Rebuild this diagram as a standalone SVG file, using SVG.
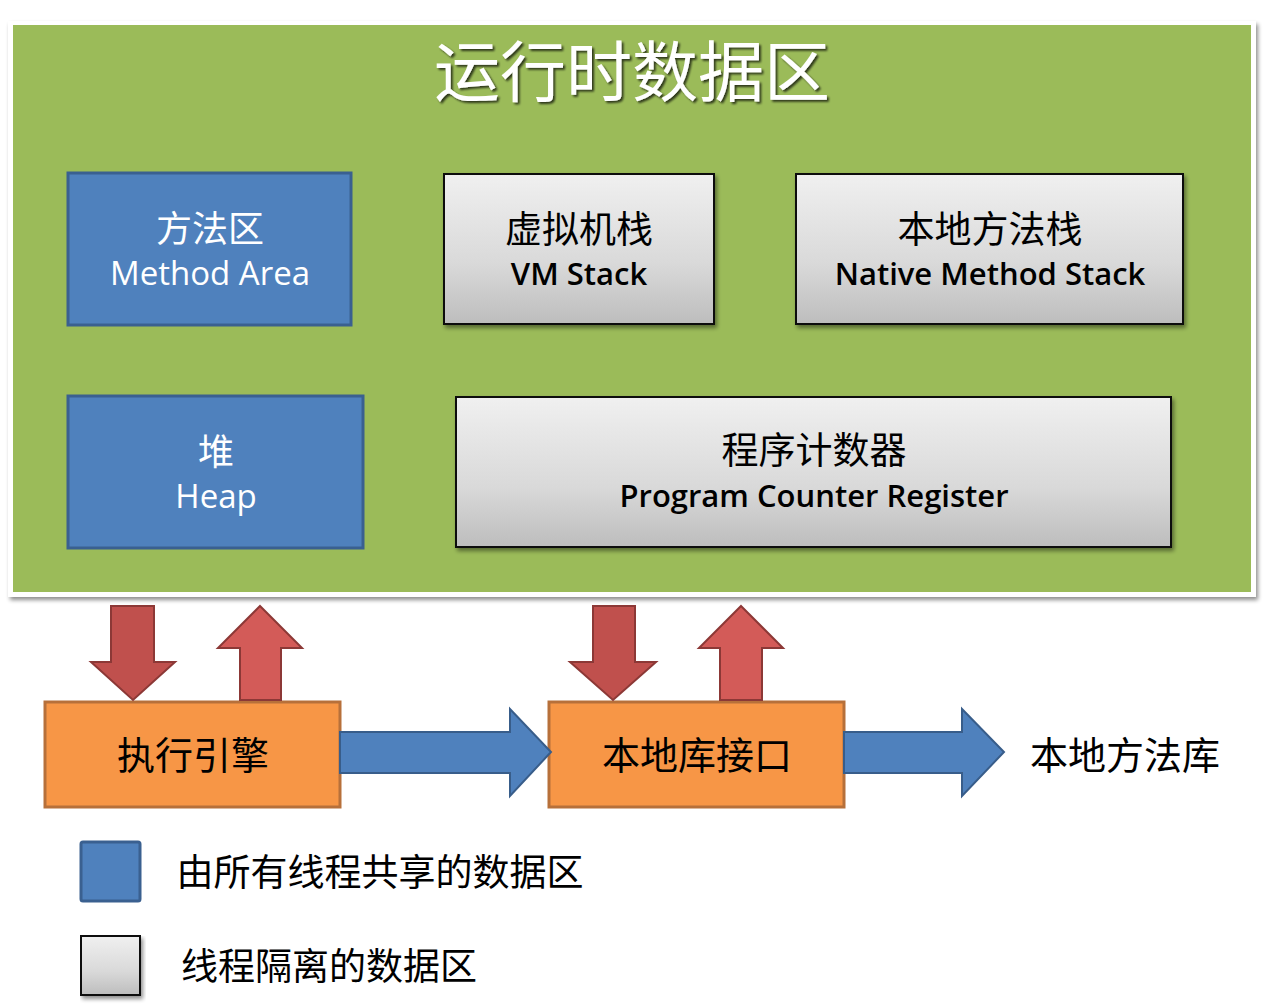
<svg xmlns="http://www.w3.org/2000/svg" width="1264" height="1006" viewBox="0 0 1264 1006">
<defs>
  <linearGradient id="grey" x1="0" y1="0" x2="0" y2="1">
    <stop offset="0" stop-color="#f0f0f0"/>
    <stop offset="0.6" stop-color="#d9d9d9"/>
    <stop offset="1" stop-color="#bdbdbd"/>
  </linearGradient>
  <filter id="shadow" x="-5%" y="-5%" width="115%" height="125%">
    <feGaussianBlur in="SourceAlpha" stdDeviation="2"/>
    <feOffset dx="2" dy="3" result="b"/>
    <feComponentTransfer><feFuncA type="linear" slope="0.45"/></feComponentTransfer>
    <feMerge><feMergeNode/><feMergeNode in="SourceGraphic"/></feMerge>
  </filter>
  <filter id="tshadow" x="-5%" y="-10%" width="115%" height="130%">
    <feGaussianBlur in="SourceAlpha" stdDeviation="1.2"/>
    <feOffset dx="1.5" dy="1.5"/>
    <feComponentTransfer><feFuncA type="linear" slope="0.7"/></feComponentTransfer>
    <feMerge><feMergeNode/><feMergeNode in="SourceGraphic"/></feMerge>
  </filter>
</defs>
<style>
  .cjk { font-family: "Noto Sans CJK SC", sans-serif; text-anchor: middle; }
  .lat { font-family: "Open Sans", "Liberation Sans", sans-serif; text-anchor: middle; }
  .shared { fill: #4f81bd; stroke: #3a6090; stroke-width: 3; }
  .private { fill: url(#grey); stroke: #111; stroke-width: 2; filter: url(#shadow); }
  .orange { fill: #f79646; stroke: #b7703a; stroke-width: 3; }
  .down { fill: #c0504d; stroke: #8c3836; stroke-width: 2; }
  .up { fill: #d35b58; stroke: #8c3836; stroke-width: 2; }
  .blue-arrow { fill: #4f81bd; stroke: #385d8a; stroke-width: 2; }
  .w { fill: #ffffff; }
  .k { fill: #000000; }
  .sb { font-weight: 600; }
</style>
<rect width="1264" height="1006" fill="#ffffff"/>

<g id="runtime-data-area">
  <rect x="8" y="21" width="1248" height="576" fill="#ffffff" filter="url(#shadow)"/>
  <rect x="13" y="25" width="1238" height="567" fill="#9bbb59"/>
  <text x="632" y="96" class="cjk w" font-size="66" filter="url(#tshadow)">运行时数据区</text>
</g>

<g id="method-area">
  <rect x="68" y="173" width="283" height="152" class="shared"/>
  <text x="210" y="242" class="cjk w" font-size="36">方法区</text>
  <text x="210" y="285" class="lat w" font-size="33">Method Area</text>
</g>

<g id="vm-stack">
  <rect x="444" y="174" width="270" height="150" class="private"/>
  <text x="579" y="243" class="cjk k" font-size="37">虚拟机栈</text>
  <text x="579" y="285" class="lat k sb" font-size="31">VM Stack</text>
</g>

<g id="native-method-stack">
  <rect x="796" y="174" width="387" height="150" class="private"/>
  <text x="990" y="243" class="cjk k" font-size="37">本地方法栈</text>
  <text x="990" y="285" class="lat k sb" font-size="31">Native Method Stack</text>
</g>

<g id="heap">
  <rect x="68" y="396" width="295" height="152" class="shared"/>
  <text x="216" y="465" class="cjk w" font-size="36">堆</text>
  <text x="216" y="508" class="lat w" font-size="33">Heap</text>
</g>

<g id="program-counter-register">
  <rect x="456" y="397" width="715" height="150" class="private"/>
  <text x="814" y="464" class="cjk k" font-size="37">程序计数器</text>
  <text x="814" y="507" class="lat k sb" font-size="31">Program Counter Register</text>
</g>

<g id="execution-engine">
  <rect x="45" y="702" width="295" height="105" class="orange"/>
  <text x="193" y="769" class="cjk k" font-size="38">执行引擎</text>
</g>

<g id="native-interface">
  <rect x="549" y="702" width="295" height="105" class="orange"/>
  <text x="697" y="769" class="cjk k" font-size="38">本地库接口</text>
</g>

<g id="native-libraries">
  <text x="1125" y="769" class="cjk k" font-size="38">本地方法库</text>
</g>

<g id="connectors">
  <polygon class="down" points="111,606 154,606 154,662 175,662 133,700 91,662 111,662"/>
  <polygon class="up" points="260,606 302,648 281,648 281,700 240,700 240,648 218,648"/>
  <polygon class="down" points="593,606 635,606 635,662 656,662 613,700 570,662 593,662"/>
  <polygon class="up" points="741,606 783,648 762,648 762,700 720,700 720,648 699,648"/>
  <polygon class="blue-arrow" points="340,732 510,732 510,709 551,752 510,796 510,773 340,773"/>
  <polygon class="blue-arrow" points="844,732 962,732 962,709 1004,752 962,796 962,773 844,773"/>
</g>

<g id="legend">
  <g id="legend-shared">
    <rect x="81" y="842" width="59" height="59" rx="2" class="shared" stroke-width="2.5"/>
    <text x="380" y="886" class="cjk k" font-size="37">由所有线程共享的数据区</text>
  </g>
  <g id="legend-private">
    <rect x="81" y="936" width="59" height="59" class="private"/>
    <text x="329" y="980" class="cjk k" font-size="37">线程隔离的数据区</text>
  </g>
</g>
</svg>
